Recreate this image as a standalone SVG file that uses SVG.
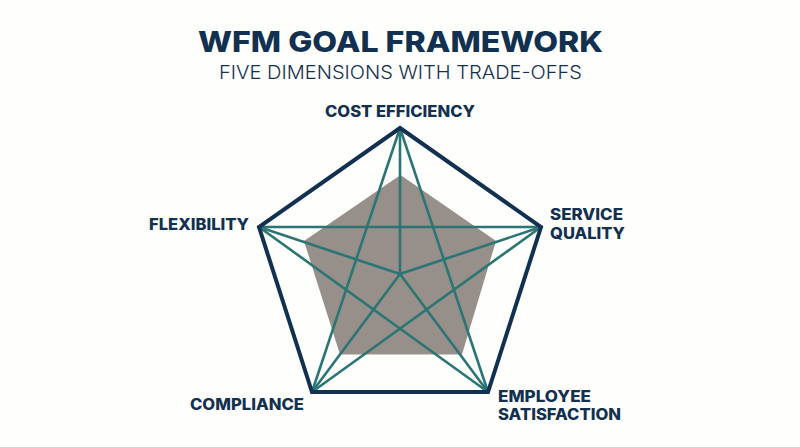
<svg xmlns="http://www.w3.org/2000/svg" width="800" height="447" viewBox="0 0 800 447">
<style>
text{font-family:"Inter","Open Sans","Liberation Sans",sans-serif;fill:#12304f}
.l{font-size:15.5px;font-weight:800}
.t{stroke:#2b7675;stroke-width:2.6;fill:none;stroke-linecap:round}
</style>
<rect width="800" height="447" fill="#fefefd"/>
<g id="title">
<text x="198" y="52" font-size="29" font-weight="800" textLength="405" lengthAdjust="spacingAndGlyphs">WFM GOAL FRAMEWORK</text>
<text x="219" y="79" font-size="18.5" font-weight="300" textLength="363" lengthAdjust="spacingAndGlyphs">FIVE DIMENSIONS WITH TRADE-OFFS</text>
</g>
<g id="achieved-area"><polygon points="400.5,175 496,241 462,354.500 340,354.500 304,241" fill="#978f89"/></g>
<g id="connectors">
<path class="t" d="M400 274L400 128M400 274L541 227M400 274L488 392M400 274L312 392M400 274L259 227"/>
<path class="t" d="M400 128L312 392M400 128L488 392M259 227L541 227M259 227L488 392M541 227L312 392"/>
</g>
<g id="frame"><polygon points="400,128 541,227 488,392 312,392 259,227" fill="none" stroke="#12304f" stroke-width="4"/></g>
<g id="node-cost-efficiency"><text class="l" x="325" y="117" textLength="150" lengthAdjust="spacingAndGlyphs">COST EFFICIENCY</text></g>
<g id="node-service-quality"><text class="l" x="550" y="220" textLength="73" lengthAdjust="spacingAndGlyphs">SERVICE</text><text class="l" x="550" y="239" textLength="75" lengthAdjust="spacingAndGlyphs">QUALITY</text></g>
<g id="node-employee-satisfaction"><text class="l" x="498" y="402" textLength="93" lengthAdjust="spacingAndGlyphs">EMPLOYEE</text><text class="l" x="498" y="420" textLength="123" lengthAdjust="spacingAndGlyphs">SATISFACTION</text></g>
<g id="node-compliance"><text class="l" x="190" y="409.500" textLength="114" lengthAdjust="spacingAndGlyphs">COMPLIANCE</text></g>
<g id="node-flexibility"><text class="l" x="149" y="230" textLength="100" lengthAdjust="spacingAndGlyphs">FLEXIBILITY</text></g>
</svg>
